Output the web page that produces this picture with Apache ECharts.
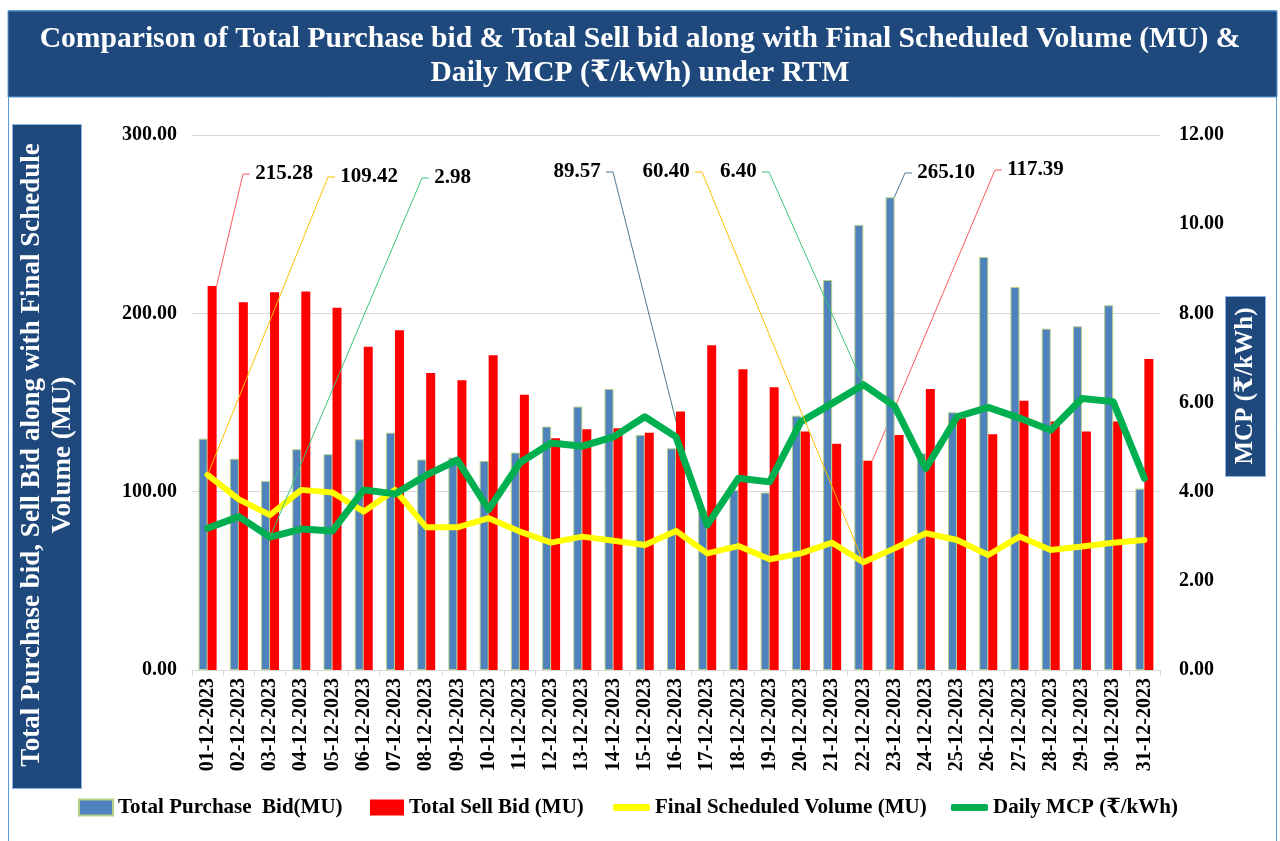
<!DOCTYPE html>
<html>
<head>
<meta charset="utf-8">
<script src="https://cdn.jsdelivr.net/npm/echarts@6/dist/echarts.min.js"></script>
<style>
html,body{margin:0;padding:0;background:#fff;}
#chart{width:1280px;height:841px;}
</style>
</head>
<body>
<div id="chart"></div>
<script>
const dates = ['01-12-2023','02-12-2023','03-12-2023','04-12-2023','05-12-2023','06-12-2023','07-12-2023','08-12-2023','09-12-2023','10-12-2023','11-12-2023','12-12-2023','13-12-2023','14-12-2023','15-12-2023','16-12-2023','17-12-2023','18-12-2023','19-12-2023','20-12-2023','21-12-2023','22-12-2023','23-12-2023','24-12-2023','25-12-2023','26-12-2023','27-12-2023','28-12-2023','29-12-2023','30-12-2023','31-12-2023'];
const purchaseBid = [129.7,118.5,106.0,123.8,121.0,129.4,133.1,118.0,119.1,117.2,121.9,136.5,147.7,157.6,131.8,124.3,89.57,101.0,99.5,142.6,218.7,249.6,265.10,121.5,144.5,231.6,214.8,191.4,192.7,204.5,101.7];
const sellBid = [215.28,206.2,211.8,212.2,203.2,181.2,190.5,166.6,162.5,176.5,154.4,130.0,135.0,135.5,133.1,144.9,182.1,168.6,158.5,133.7,126.8,117.39,131.8,157.6,141.2,132.2,151.0,139.3,133.7,139.3,174.4];
const scheduledVolume = [109.42,95.7,86.9,101.0,99.5,88.8,101.0,80.0,80.0,85.1,77.6,71.4,74.8,72.5,70.1,78.0,65.4,69.5,62.1,65.4,71.4,60.40,68.2,76.7,72.9,64.5,74.8,67.3,69.2,71.4,72.9];
const dailyMCP = [3.18,3.44,2.98,3.16,3.12,4.04,3.95,4.37,4.71,3.60,4.65,5.09,5.02,5.23,5.68,5.23,3.25,4.30,4.22,5.57,5.98,6.40,5.92,4.52,5.68,5.89,5.65,5.38,6.09,6.02,4.30];
const leftTicks = [0,100,200,300];
const rightTicks = [0,2,4,6,8,10,12];

const seriesNames = ['Total Purchase  Bid(MU)','Total Sell Bid (MU)','Final Scheduled Volume (MU)','Daily MCP (\u20B9/kWh)'];

const FONT = "'Liberation Serif','Times New Roman','DejaVu Serif',serif";

// callout label text positions (layout only)
const callouts = {
  0: {16: {x: 606, y: 172, align: 'right'}, 22: {x: 912, y: 173, align: 'left'}},
  1: {0: {x: 250, y: 174, align: 'left'}, 21: {x: 1002, y: 170, align: 'left'}},
  2: {0: {x: 335, y: 177, align: 'left'}, 21: {x: 695, y: 172, align: 'right'}},
  3: {2: {x: 429, y: 178, align: 'left'}, 21: {x: 762, y: 172, align: 'right'}}
};
const leaderColors = ['#4a7890','#ff5a5a','#ffc000','#3cc47a'];
const PAD = '\u00a0'.repeat(18);
const GAP = '\u00a0';

function withCallouts(arr, si){
  return arr.map((v,i) => callouts[si][i] ? {value: v, label: {show: true}} : v);
}
function layoutFor(si){
  return function(params){
    const p = callouts[si][params.dataIndex];
    if(!p) return {};
    return {x: p.x, y: p.y, align: p.align, verticalAlign: 'middle'};
  };
}
function calloutLabel(si){
  return {
    show: false,
    formatter: p => {
      const c = callouts[si][p.dataIndex];
      const t = Number(p.value).toFixed(2);
      if(!c) return t;
      return c.align === 'left' ? GAP + t + PAD : PAD + t + GAP;
    },
    fontFamily: FONT, fontWeight: 'bold', fontSize: 21, color: '#000'
  };
}
function leader(si){
  return {show: true, length2: 7, lineStyle: {color: leaderColors[si], width: 1}};
}

const chart = echarts.init(document.getElementById('chart'), null, {renderer: 'canvas'});

const legendText = {fontFamily: FONT, fontWeight: 'bold', fontSize: 21, color: '#000'};

const option = {
  backgroundColor: '#fff',
  animation: false,
  title: {
    text: 'Comparison of Total Purchase bid & Total Sell bid along with Final Scheduled Volume (MU) &\nDaily MCP (\u20B9/kWh) under RTM',
    left: 'center', top: 17,
    textStyle: {color: '#fff', fontFamily: FONT, fontWeight: 'bold', fontSize: 29.6, lineHeight: 34},
    z: 10
  },
  grid: {left: 192, right: 120, top: 135, bottom: 171, containLabel: false},
  legend: [
    {data: [seriesNames[0]], left: 78, top: 797, padding: 0, icon: 'rect', itemWidth: 34, itemHeight: 16, textStyle: legendText},
    {data: [seriesNames[1]], left: 370, top: 797, padding: 0, icon: 'rect', itemWidth: 34, itemHeight: 16, textStyle: legendText},
    {data: [seriesNames[2]], left: 613, top: 797, padding: 0, icon: 'roundRect', itemWidth: 37, itemHeight: 7, textStyle: legendText},
    {data: [seriesNames[3]], left: 951, top: 797, padding: 0, icon: 'roundRect', itemWidth: 37, itemHeight: 7, textStyle: legendText}
  ],
  xAxis: {
    type: 'category', data: dates, boundaryGap: true,
    axisLine: {lineStyle: {color: '#d9d9d9'}},
    axisTick: {show: true, length: 6, lineStyle: {color: '#d9d9d9'}},
    axisLabel: {interval: 0, rotate: 90, margin: 8, fontFamily: FONT, fontWeight: 'bold', fontSize: 20, color: '#000'}
  },
  yAxis: [
    {type: 'value', min: leftTicks[0], max: leftTicks[leftTicks.length-1], interval: leftTicks[1]-leftTicks[0],
     axisLine: {show: false}, axisTick: {show: false},
     splitLine: {lineStyle: {color: '#d9d9d9', width: 1}},
     axisLabel: {formatter: v => v.toFixed(2), margin: 15, fontFamily: FONT, fontWeight: 'bold', fontSize: 20, color: '#000'}},
    {type: 'value', min: rightTicks[0], max: rightTicks[rightTicks.length-1], interval: rightTicks[1]-rightTicks[0],
     axisLine: {show: false}, axisTick: {show: false}, splitLine: {show: false},
     axisLabel: {formatter: v => v.toFixed(2), margin: 19, fontFamily: FONT, fontWeight: 'bold', fontSize: 20, color: '#000'}}
  ],
  series: [
    {name: seriesNames[0], type: 'bar', data: withCallouts(purchaseBid, 0), barWidth: 9, barGap: '0%',
     itemStyle: {color: '#4f81bd', borderColor: '#b5cf8a', borderWidth: 1},
     label: calloutLabel(0), labelLine: leader(0), labelLayout: layoutFor(0)},
    {name: seriesNames[1], type: 'bar', data: withCallouts(sellBid, 1), barWidth: 9, barGap: '0%',
     itemStyle: {color: '#ff0000'},
     label: calloutLabel(1), labelLine: leader(1), labelLayout: layoutFor(1)},
    {name: seriesNames[2], type: 'line', data: withCallouts(scheduledVolume, 2),
     symbol: 'circle', symbolSize: 1, showSymbol: true, showAllSymbol: true,
     itemStyle: {color: '#ffff00'},
     lineStyle: {color: '#ffff00', width: 6, cap: 'round', join: 'round'},
     label: calloutLabel(2), labelLine: leader(2), labelLayout: layoutFor(2)},
    {name: seriesNames[3], type: 'line', yAxisIndex: 1, data: withCallouts(dailyMCP, 3),
     symbol: 'circle', symbolSize: 1, showSymbol: true, showAllSymbol: true,
     itemStyle: {color: '#00b050'},
     lineStyle: {color: '#00b050', width: 7, cap: 'round', join: 'round'},
     label: calloutLabel(3), labelLine: leader(3), labelLayout: layoutFor(3)}
  ],
  graphic: [
    {type: 'rect', z: -10, shape: {x: 8.5, y: 10.5, width: 1268, height: 845}, style: {fill: 'none', stroke: '#5b9bd5', lineWidth: 1}},
    {type: 'rect', z: -5, shape: {x: 8, y: 11, width: 1269, height: 86}, style: {fill: '#1f497d', stroke: '#5b9bd5', lineWidth: 1}},
    {type: 'rect', z: -5, shape: {x: 12.5, y: 124.5, width: 69, height: 664}, style: {fill: '#1f497d', stroke: '#8db3e2', lineWidth: 1}},
    {type: 'text', z: 5, x: 32, y: 455, rotation: Math.PI/2,
     style: {text: 'Total Purchase bid, Sell Bid along with Final Schedule', fill: '#fff', font: "bold 27px " + FONT, textAlign: 'center', textVerticalAlign: 'middle'}},
    {type: 'text', z: 5, x: 63, y: 455, rotation: Math.PI/2,
     style: {text: 'Volume (MU)', fill: '#fff', font: "bold 27px " + FONT, textAlign: 'center', textVerticalAlign: 'middle'}},
    {type: 'rect', z: -5, shape: {x: 1225.5, y: 296.5, width: 40, height: 180}, style: {fill: '#1f497d', stroke: '#8db3e2', lineWidth: 1}},
    {type: 'text', z: 5, x: 1246, y: 386, rotation: Math.PI/2,
     style: {text: 'MCP (\u20B9/kWh)', fill: '#fff', font: "bold 25px " + FONT, textAlign: 'center', textVerticalAlign: 'middle'}}
  ]
};
chart.setOption(option);
</script>
</body>
</html>
